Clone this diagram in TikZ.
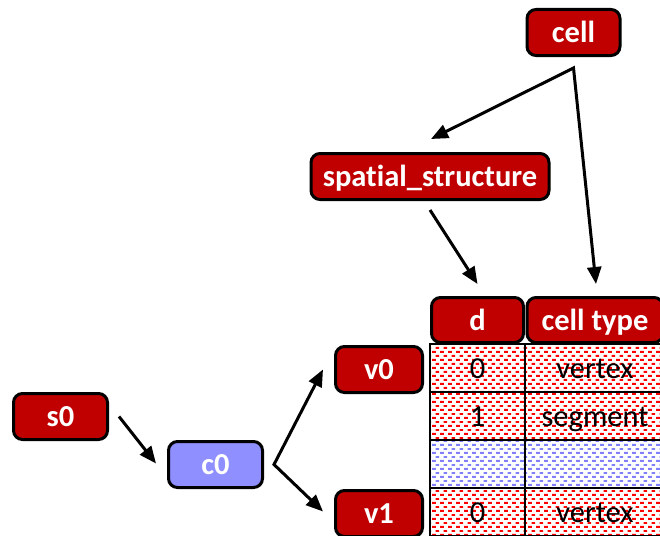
\documentclass[tikz,border=0pt]{standalone}
\usepackage{fontspec}
\setmainfont{Carlito}[Ligatures=NoCommon]
\usetikzlibrary{arrows.meta,positioning,calc,patterns.meta}

\definecolor{boxred}{RGB}{192,0,0}
\definecolor{boxblue}{RGB}{143,143,255}
\definecolor{dashblue}{RGB}{128,128,255}

% Brick-like rows of short dashes for the table cells
\tikzdeclarepattern{
  name=dashbricks,
  type=uncolored,
  bounding box={(0pt,0pt) and (8pt,8.4pt)},
  tile size={(8pt,8.4pt)},
  code={
    \draw [line width=2pt] (0pt,1.2pt) -- (4.2pt,1.2pt) (4pt,5.4pt) -- (8pt,5.4pt);
  }
}

\begin{document}
\begin{tikzpicture}[x=1pt, y=1pt]
        % Style definitions
        \tikzset{
            box/.style={draw, line width=3pt, rounded corners=9pt, fill=boxred, text=white, font=\bfseries\fontsize{30.5}{36}\selectfont, minimum height=46pt, inner xsep=4pt, text height=20pt, text depth=0pt},
            entry/.style={draw, line width=1.5pt, outer sep=0pt, minimum height=48pt, pattern={dashbricks}, pattern color=red, font=\fontsize{30.5}{36}\selectfont, text height=20pt, text depth=0pt},
            arrow/.style={line width=3pt, -{Triangle[length=17pt,width=14pt]}},
            twoway/.style={line width=3pt, {Triangle[length=17pt,width=14pt]}-{Triangle[length=17pt,width=14pt]}}
        }

        \useasboundingbox (0,0) rectangle (660,-535);

        % Nodes
        \node [box, minimum width=94pt] (s0) at (60.5,-416.5) {s0};
        \node [box, fill=boxblue, minimum width=94pt, right=58pt of s0, yshift=-48pt] (c0) {c0};
        \node [box, minimum width=87pt, right=70pt of c0, yshift=95pt] (v0) {v0};
        \node [box, minimum width=87pt, right=70pt of c0, yshift=-49pt] (v1) {v1};

        % Table
        \node [entry, minimum width=95pt, right=6pt of v0, yshift=1.5pt] (d0) {0};
        \node [entry, minimum width=140pt, right=0pt of d0] (t0) {vertex};
        \node [entry, minimum width=95pt, below=0pt of d0] (d1) {1};
        \node [entry, minimum width=140pt, right=0pt of d1] (t1) {segment};
        \node [entry, pattern color=dashblue, minimum width=95pt, below=0pt of d1] (d2) {};
        \node [entry, pattern color=dashblue, minimum width=140pt, right=0pt of d2] (t2) {};
        \node [entry, minimum width=95pt, below=0pt of d2] (d3) {0};
        \node [entry, minimum width=140pt, right=0pt of d3] (t3) {vertex};

        % Column headers
        \node [box, minimum width=92pt, minimum height=45pt, above=0pt of d0] (dhead) {d};
        \node [box, minimum width=136pt, minimum height=45pt, above=0pt of t0] (thead) {cell type};

        \node [box, minimum width=238pt, above=95pt of dhead, xshift=-47.5pt] (ss) {spatial\_structure};
        \node [box, minimum width=93pt, above=95pt of ss, xshift=143.5pt] (cell) {cell};

        % Connections
        \coordinate (cellfork) at ($(cell.south)+(0,-11)$);
        \draw [twoway] ($(ss.north)+(1,13)$) -- (cellfork) -- ($(thead.north)+(1,12)$);

        \draw [arrow] ($(ss.south)+(0,-9)$) -- ($(dhead.north)+(0,12)$);

        \draw [arrow] ($(s0.east)+(10,0)$) -- ($(c0.west)+(-11,1)$);

        \coordinate (c0fork) at ($(c0.east)+(10,0)$);
        \draw [twoway] ($(v0.west)+(-11,0)$) -- (c0fork) -- ($(v1.west)+(-11,2)$);
    \end{tikzpicture}
\end{document}
